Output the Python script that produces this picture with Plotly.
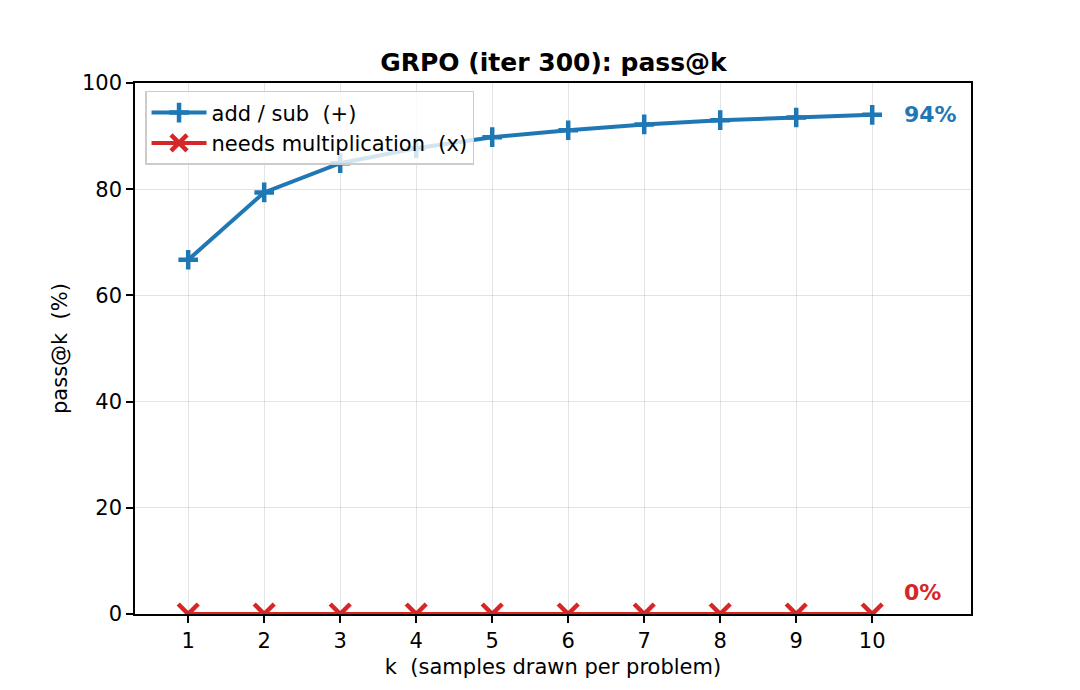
import plotly.graph_objects as go

k = [1, 2, 3, 4, 5, 6, 7, 8, 9, 10]
add_sub = [66.7, 79.4, 84.9, 87.7, 89.8, 91.1, 92.2, 93.0, 93.5, 94.0]
needs_mult = [0, 0, 0, 0, 0, 0, 0, 0, 0, 0]
series_names = ["add / sub\u00a0\u00a0(+)", "needs multiplication\u00a0\u00a0(x)"]
end_labels = ["94%", "0%"]
y_ticks = [0, 20, 40, 60, 80, 100]

BLUE = "#1f77b4"
RED = "#d62728"
FONT = "DejaVu Sans"

fig = go.Figure()
fig.add_trace(go.Scatter(
    x=k, y=add_sub, mode="lines+markers", name=series_names[0],
    line=dict(color=BLUE, width=4),
    marker=dict(symbol="cross-thin", size=14, line=dict(color=BLUE, width=4.5)),
))
fig.add_trace(go.Scatter(
    x=k, y=needs_mult, mode="lines+markers", name=series_names[1],
    line=dict(color=RED, width=4),
    marker=dict(symbol="x-thin", size=20, line=dict(color=RED, width=4.5)),
))

fig.add_annotation(x=k[-1], y=add_sub[-1], text="<b>" + end_labels[0] + "</b>",
                   xshift=30, xanchor="left", yanchor="middle", showarrow=False,
                   font=dict(color=BLUE, size=22, family=FONT))
fig.add_annotation(x=k[-1], y=needs_mult[-1], text="<b>" + end_labels[1] + "</b>",
                   xshift=30, yshift=22, xanchor="left", yanchor="middle", showarrow=False,
                   font=dict(color=RED, size=22, family=FONT))

axis_common = dict(
    showline=True, linecolor="black", linewidth=1.6, mirror=True,
    ticks="outside", ticklen=7, tickwidth=1.6, tickcolor="black",
    showgrid=True, gridcolor="rgba(176,176,176,0.35)", gridwidth=1.3,
    zeroline=False, tickfont=dict(size=21, family=FONT, color="black"),
)

fig.update_layout(
    width=1080, height=690,
    margin=dict(l=135, r=109, t=83, b=76),
    paper_bgcolor="white", plot_bgcolor="white",
    title=dict(text="<b>GRPO (iter 300): pass@k</b>", x=0.5125, xanchor="center",
               y=0.91, yanchor="middle", font=dict(size=25, family=FONT, color="black")),
    xaxis=dict(range=[0.3, 11.3], tickvals=k, ticktext=[str(v) for v in k],
               title=dict(text="k\u00a0\u00a0(samples drawn per problem)", font=dict(size=21, family=FONT, color="black"), standoff=7),
               **axis_common),
    yaxis=dict(range=[0, 100], tickvals=y_ticks,
               title=dict(text="pass@k\u00a0\u00a0(%)", font=dict(size=21, family=FONT, color="black"), standoff=9),
               **axis_common),
    legend=dict(x=0.012, y=0.985, xanchor="left", yanchor="top",
                bgcolor="rgba(255,255,255,0.8)", bordercolor="#cccccc", borderwidth=1.5,
                itemwidth=55,
                font=dict(size=21, family=FONT, color="black"), tracegroupgap=0),
    showlegend=True,
)

fig.write_html("out.html")
